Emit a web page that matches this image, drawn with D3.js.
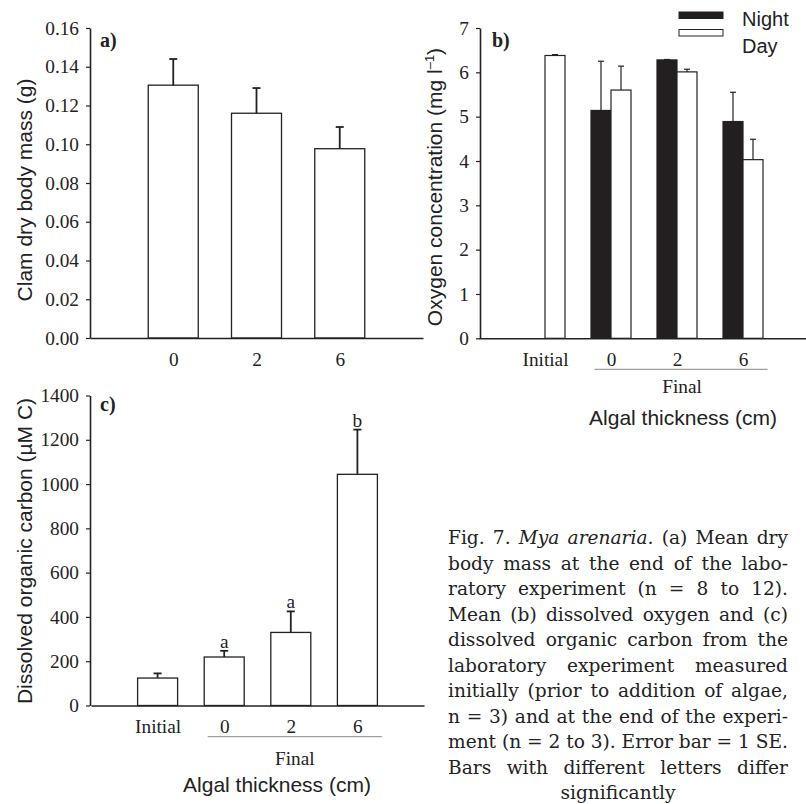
<!DOCTYPE html>
<html>
<head>
<meta charset="utf-8">
<script src="https://cdn.jsdelivr.net/npm/d3@7/dist/d3.min.js"></script>
<style>
  body { margin: 0; background: #fff; }
  svg { display: block; }
  .tick text { font-family: "Liberation Serif", serif; fill: #222; }
  .axis path, .axis line { stroke: #222; }
</style>
</head>
<body>
<div id="chart"></div>
<script>
// panel a: clam dry body mass
const catsA = ["0", "2", "6"];
const massMean = [0.1305, 0.116, 0.0977];
const massSE = [0.0135, 0.013, 0.0112];
const ticksA = [0, 0.02, 0.04, 0.06, 0.08, 0.10, 0.12, 0.14, 0.16];

// panel b: dissolved oxygen
const catsB = ["Initial", "0", "2", "6"];
const nightMean = [null, 5.14, 6.28, 4.89];
const nightSE = [null, 1.11, 0.01, 0.66];
const dayMean = [6.38, 5.6, 6.01, 4.03];
const daySE = [0.02, 0.54, 0.06, 0.46];
const ticksB = [0, 1, 2, 3, 4, 5, 6, 7];
const seriesB = ["Night", "Day"];

// panel c: dissolved organic carbon
const catsC = ["Initial", "0", "2", "6"];
const docMean = [124, 219, 330, 1044];
const docSE = [21, 28, 95, 202];
const docLetters = ["", "a", "a", "b"];
const ticksC = [0, 200, 400, 600, 800, 1000, 1200, 1400];

const captionLines = [
  "Fig. 7. *Mya* *arenaria*. (a) Mean dry",
  "body mass at the end of the labo-",
  "ratory experiment (n = 8 to 12).",
  "Mean (b) dissolved oxygen and (c)",
  "dissolved organic carbon from the",
  "laboratory experiment measured",
  "initially (prior to addition of algae,",
  "n = 3) and at the end of the experi-",
  "ment (n = 2 to 3). Error bar = 1 SE.",
  "Bars with different letters differ",
  "significantly"
];

const width = 806, height = 804;
const ink = "#222";
const serif = "Liberation Serif, serif";
const sans = "Liberation Sans, Arial, sans-serif";
const tickFont = 19.3;

const svg = d3.select("#chart").append("svg")
  .attr("width", width)
  .attr("height", height);

// helper: point scale with an empty slot at each end
function slotScale(cats, range) {
  return d3.scalePoint().domain(["_s", ...cats, "_e"]).range(range);
}

function yAxis(g, y, ticks, fmt) {
  g.attr("class", "axis")
    .call(d3.axisLeft(y).tickValues(ticks).tickFormat(fmt).tickSize(4).tickSizeOuter(0).tickPadding(7))
    .call(g => g.selectAll(".tick text").attr("font-size", tickFont).attr("font-family", serif))
    .call(g => g.select(".domain").attr("stroke-width", 1.6))
    .call(g => g.selectAll(".tick line").attr("stroke-width", 1.2));
}

function xAxis(g, x, cats) {
  g.attr("class", "axis")
    .call(d3.axisBottom(x).tickValues(cats).tickSize(0).tickSizeOuter(0).tickPadding(14))
    .call(g => g.selectAll(".tick text").attr("font-size", tickFont).attr("font-family", serif))
    .call(g => g.select(".domain").attr("stroke-width", 1.6));
}

function errBars(g, data, cap, sw) {
  g.selectAll("line.err").data(data).enter().append("line")
    .attr("class", "err")
    .attr("x1", d => d.x).attr("x2", d => d.x)
    .attr("y1", d => d.y0).attr("y2", d => d.y1)
    .attr("stroke", ink).attr("stroke-width", sw);
  g.selectAll("line.cap").data(data).enter().append("line")
    .attr("class", "cap")
    .attr("x1", d => d.x - cap / 2).attr("x2", d => d.x + cap / 2)
    .attr("y1", d => d.y1).attr("y2", d => d.y1)
    .attr("stroke", ink).attr("stroke-width", sw);
}

// ---------- panel a ----------
{
  const x = slotScale(catsA, [90, 423]);
  const y = d3.scaleLinear().domain([0, 0.16]).range([338, 28]);
  const g = svg.append("g");
  const bw = 50;
  g.selectAll("rect").data(catsA).enter().append("rect")
    .attr("x", d => x(d) - bw / 2)
    .attr("y", (d, i) => y(massMean[i]))
    .attr("width", bw)
    .attr("height", (d, i) => y(0) - y(massMean[i]))
    .attr("fill", "#fff").attr("stroke", ink).attr("stroke-width", 1.3);
  errBars(g, catsA.map((c, i) => ({ x: x(c), y0: y(massMean[i]), y1: y(massMean[i] + massSE[i]) })), 8, 1.8);
  g.append("g").attr("transform", "translate(90,0)").call(yAxis, y, ticksA, d3.format(".2f"));
  g.append("g").attr("transform", "translate(0,338)").call(xAxis, x, catsA);
  g.append("text").attr("x", 100).attr("y", 47).attr("font-family", serif)
    .attr("font-weight", "bold").attr("font-size", 20).attr("fill", ink).text("a)");
  g.append("text").attr("transform", "translate(32,190) rotate(-90)")
    .attr("text-anchor", "middle").attr("font-family", sans).attr("font-size", 21)
    .attr("fill", ink).text("Clam dry body mass (g)");
}

// ---------- panel b ----------
{
  const x = slotScale(catsB, [479, 809]);
  const y = d3.scaleLinear().domain([0, 7]).range([338.3, 28]);
  const sub = d3.scaleBand().domain(seriesB).range([-20, 20]);
  const fills = { Night: "#231f20", Day: "#fff" };
  const g = svg.append("g");
  const bars = [];
  catsB.forEach((c, i) => {
    if (nightMean[i] != null) bars.push({ s: "Night", c, v: nightMean[i], e: nightSE[i] });
    if (dayMean[i] != null) bars.push({ s: "Day", c, v: dayMean[i], e: daySE[i] });
  });
  g.selectAll("rect").data(bars).enter().append("rect")
    .attr("x", d => x(d.c) + sub(d.s))
    .attr("y", d => y(d.v))
    .attr("width", sub.bandwidth())
    .attr("height", d => y(0) - y(d.v))
    .attr("fill", d => fills[d.s]).attr("stroke", ink).attr("stroke-width", 1.2);
  errBars(g, bars.map(d => ({ x: x(d.c) + sub(d.s) + sub.bandwidth() / 2, y0: y(d.v), y1: y(d.v + d.e) })), 6, 1.2);
  g.append("g").attr("transform", "translate(480,0)").call(yAxis, y, ticksB, d3.format("d"));
  g.append("g").attr("transform", "translate(0,338.3)").call(xAxis, x, catsB);
  const x0 = x("0") - 16.5, x1 = x("6") + 24.5;
  g.append("line").attr("x1", x0).attr("x2", x1).attr("y1", 369.3).attr("y2", 369.3)
    .attr("stroke", "#888").attr("stroke-width", 1);
  g.append("text").attr("x", (x0 + x1) / 2 + 1).attr("y", 393).attr("text-anchor", "middle")
    .attr("font-family", serif).attr("font-size", tickFont).attr("fill", ink).text("Final");
  g.append("text").attr("x", 683).attr("y", 425).attr("text-anchor", "middle")
    .attr("font-family", sans).attr("font-size", 21).attr("fill", ink).text("Algal thickness (cm)");
  g.append("text").attr("x", 492).attr("y", 47).attr("font-family", serif)
    .attr("font-weight", "bold").attr("font-size", 20).attr("fill", ink).text("b)");
  const t = g.append("text").attr("transform", "translate(442,187) rotate(-90)")
    .attr("text-anchor", "middle").attr("font-family", sans).attr("font-size", 21).attr("fill", ink);
  t.append("tspan").text("Oxygen concentration (mg l");
  t.append("tspan").attr("font-size", 13).attr("dy", -8).text("–1");
  t.append("tspan").attr("dy", 8).text(")");

  // legend
  const lg = g.append("g");
  seriesB.forEach((s, i) => {
    lg.append("rect").attr("x", 679).attr("y", 12 + i * 17.5).attr("width", 44).attr("height", 6.5)
      .attr("fill", fills[s]).attr("stroke", ink).attr("stroke-width", 1);
    lg.append("text").attr("x", 742).attr("y", 26 + i * 26.5).attr("font-family", sans)
      .attr("font-size", 20).attr("fill", ink).text(s);
  });
}

// ---------- panel c ----------
{
  const x = slotScale(catsC, [91, 424]);
  const y = d3.scaleLinear().domain([0, 1400]).range([705.5, 395.5]);
  const g = svg.append("g");
  const bw = 40;
  g.selectAll("rect").data(catsC).enter().append("rect")
    .attr("x", d => x(d) - bw / 2)
    .attr("y", (d, i) => y(docMean[i]))
    .attr("width", bw)
    .attr("height", (d, i) => y(0) - y(docMean[i]))
    .attr("fill", "#fff").attr("stroke", ink).attr("stroke-width", 1.3);
  errBars(g, catsC.map((c, i) => ({ x: x(c), y0: y(docMean[i]), y1: y(docMean[i] + docSE[i]) })), 8, 1.8);
  g.selectAll("text.sig").data(catsC).enter().append("text")
    .attr("class", "sig")
    .attr("x", d => x(d))
    .attr("y", (d, i) => y(docMean[i] + docSE[i]) - 3)
    .attr("text-anchor", "middle").attr("font-family", serif).attr("font-size", tickFont).attr("fill", ink)
    .text((d, i) => docLetters[i]);
  g.append("g").attr("transform", "translate(90,0)").call(yAxis, y, ticksC, d3.format("d"));
  g.append("g").attr("transform", "translate(0,705.5)").call(xAxis, x, catsC);
  const x0 = x("0") - 16.5, x1 = x("6") + 24.5;
  g.append("line").attr("x1", x0).attr("x2", x1).attr("y1", 736.7).attr("y2", 736.7)
    .attr("stroke", "#888").attr("stroke-width", 1);
  g.append("text").attr("x", (x0 + x1) / 2).attr("y", 765).attr("text-anchor", "middle")
    .attr("font-family", serif).attr("font-size", tickFont).attr("fill", ink).text("Final");
  g.append("text").attr("x", 277).attr("y", 792).attr("text-anchor", "middle")
    .attr("font-family", sans).attr("font-size", 21).attr("fill", ink).text("Algal thickness (cm)");
  g.append("text").attr("x", 100).attr("y", 411).attr("font-family", serif)
    .attr("font-weight", "bold").attr("font-size", 20).attr("fill", ink).text("c)");
  g.append("text").attr("transform", "translate(32,551) rotate(-90)")
    .attr("text-anchor", "middle").attr("font-family", sans).attr("font-size", 21)
    .attr("fill", ink).text("Dissolved organic carbon (µM C)");
}

// ---------- caption (justified word by word) ----------
{
  const left = 448, right = 788, top = 544, lead = 25.5;
  const cap = svg.append("g").attr("font-family", "DejaVu Serif, serif").attr("font-size", 18.6).attr("fill", ink);
  captionLines.forEach((line, li) => {
    const yy = top + li * lead;
    const words = line.split(" ").map(w => {
      const t = cap.append("text").attr("y", yy);
      w.split("*").forEach((seg, k) => {
        if (seg) t.append("tspan").attr("font-style", k % 2 ? "italic" : "normal").text(seg);
      });
      return t;
    });
    let widths = words.map(t => t.node().getComputedTextLength());
    let total = d3.sum(widths);
    if (li === captionLines.length - 1) {
      words[0].attr("x", (left + right) / 2 - total / 2);
      return;
    }
    const minGap = 4;
    const room = right - left - minGap * (words.length - 1);
    if (total > room) {
      // squeeze letters a little when a line is too long
      const k = room / total;
      words.forEach((t, j) => t.attr("textLength", widths[j] * k).attr("lengthAdjust", "spacingAndGlyphs"));
      widths = widths.map(w => w * k);
      total = room;
    }
    const gap = (right - left - total) / (words.length - 1);
    let cx = left;
    words.forEach((t, k) => { t.attr("x", cx); cx += widths[k] + gap; });
  });
}
</script>
</body>
</html>
